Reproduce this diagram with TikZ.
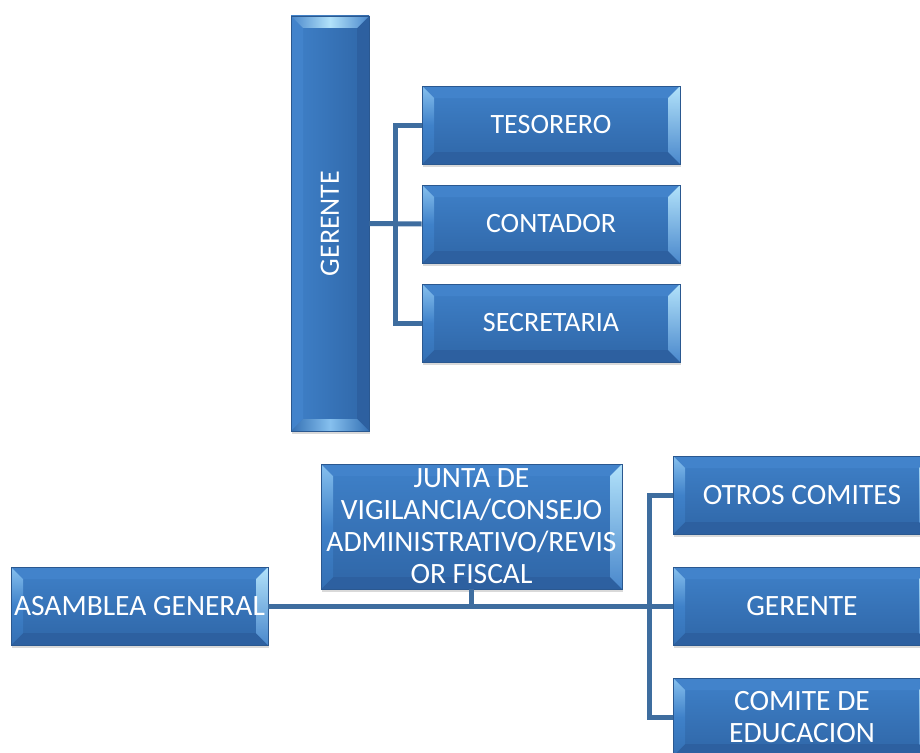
\documentclass[tikz,border=0pt]{standalone}
\usepackage{fontspec}
\setmainfont{Carlito}
\usetikzlibrary{calc,shadows}
\definecolor{facetop}{HTML}{3F81C9}
\definecolor{facebot}{HTML}{2F66A7}
\definecolor{boxline}{HTML}{2A5890}
\definecolor{bevtop}{HTML}{4283CB}
\definecolor{bevbot}{HTML}{2D60A0}
\definecolor{bevlitA}{HTML}{B2E2FA}
\definecolor{bevlitB}{HTML}{4A88CC}
\definecolor{bevleftA}{HTML}{86C0EE}
\definecolor{bevleftB}{HTML}{3470B4}
\definecolor{conncol}{HTML}{3E6D9F}
\tikzset{
  boxbase/.style={rectangle, draw=boxline, line width=0.6pt, inner sep=1pt,
    align=center, text=white,
    drop shadow={shadow xshift=1pt, shadow yshift=-3pt, opacity=0.3}},
  bevelH/.style={boxbase, top color=facetop, bottom color=facebot,
    path picture={
      \coordinate (pNW) at (path picture bounding box.north west);
      \coordinate (pNE) at (path picture bounding box.north east);
      \coordinate (pSW) at (path picture bounding box.south west);
      \coordinate (pSE) at (path picture bounding box.south east);
      \fill[bevtop] (pNW) -- (pNE) -- ($(pNE)+(-12pt,-12pt)$) -- ($(pNW)+(12pt,-12pt)$) -- cycle;
      \fill[bevbot] (pSW) -- (pSE) -- ($(pSE)+(-12pt,12pt)$) -- ($(pSW)+(12pt,12pt)$) -- cycle;
      \shade[top color=bevlitA, bottom color=bevlitB] (pNE) -- (pSE) -- ($(pSE)+(-12pt,12pt)$) -- ($(pNE)+(-12pt,-12pt)$) -- cycle;
      \shade[top color=bevleftA, bottom color=bevleftB, middle color=facetop] (pNW) -- (pSW) -- ($(pSW)+(12pt,12pt)$) -- ($(pNW)+(12pt,-12pt)$) -- cycle;
    }},
  bevelV/.style={boxbase, left color=facetop, right color=facebot,
    path picture={
      \coordinate (pNW) at (path picture bounding box.north west);
      \coordinate (pNE) at (path picture bounding box.north east);
      \coordinate (pSW) at (path picture bounding box.south west);
      \coordinate (pSE) at (path picture bounding box.south east);
      \fill[bevtop] (pNW) -- (pSW) -- ($(pSW)+(12pt,12pt)$) -- ($(pNW)+(12pt,-12pt)$) -- cycle;
      \fill[bevbot] (pNE) -- (pSE) -- ($(pSE)+(-12pt,12pt)$) -- ($(pNE)+(-12pt,-12pt)$) -- cycle;
      \shade[left color=bevlitB, right color=bevlitB, middle color=bevlitA] (pNW) -- (pNE) -- ($(pNE)+(-12pt,-12pt)$) -- ($(pNW)+(12pt,-12pt)$) -- cycle;
      \shade[left color=bevleftB, right color=bevleftB, middle color=bevleftA] (pSW) -- (pSE) -- ($(pSE)+(-12pt,12pt)$) -- ($(pSW)+(12pt,12pt)$) -- cycle;
    }},
  topfont/.style={font=\fontsize{28}{32}\selectfont},
  botfont/.style={font=\fontsize{29.5}{32}\selectfont},
  wbox/.style={bevelH, minimum width=258pt, minimum height=78pt},
  conn/.style={draw=conncol, line width=5pt}
}
\begin{document}
\begin{tikzpicture}[x=1pt, y=-1pt]
\useasboundingbox (0,0) rectangle (920,752);
% top diagram
\node[bevelV, topfont, minimum width=78pt, minimum height=415pt] (ger) at (330,223.5) {\rotatebox{90}{GERENTE}};
\node[wbox, topfont] (tes) at (551,125) {TESORERO};
\node[wbox, topfont] (cont) at (551,224) {CONTADOR};
\node[wbox, topfont] (sec) at (551,323) {SECRETARIA};
\coordinate (j1) at ($(ger.east)!0.5!(cont.west)$);
\draw[conn] (ger.east) -- (cont.west);
\draw[conn] (tes.west) -| (j1) |- (sec.west);
% bottom diagram
\node[bevelH, botfont, minimum width=257pt, minimum height=78pt] (asam) at (139.5,606) {ASAMBLEA GENERAL};
\node[bevelH, botfont, minimum width=301pt, minimum height=125pt] (junta) at (471.5,526.5) {JUNTA DE\\VIGILANCIA/CONSEJO\\ADMINISTRATIVO/REVIS\\OR FISCAL};
\node[wbox, botfont] (otros) at (802,495) {OTROS COMITES};
\node[wbox, botfont] (ger2) at (802,606) {GERENTE};
\node[wbox, botfont] (comite) at (802,717) {COMITE DE\\EDUCACION};
\coordinate (j2) at ($(ger2.west)+(-23pt,0pt)$);
\draw[conn] (asam.east) -- (ger2.west);
\draw[conn] (junta.south) -- (junta.south |- asam.east);
\draw[conn] (otros.west) -| (j2) |- (comite.west);
\end{tikzpicture}
\end{document}
